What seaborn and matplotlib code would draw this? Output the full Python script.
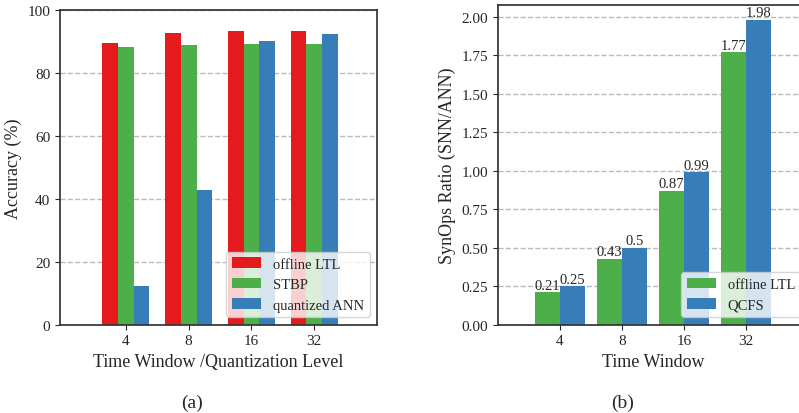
import matplotlib
matplotlib.use("Agg")
import matplotlib.pyplot as plt
import seaborn as sns
import pandas as pd

# ---- data ----
windows = ["4", "8", "16", "32"]
acc_offline_ltl = [89.5, 92.7, 93.4, 93.4]
acc_stbp = [88.2, 88.9, 89.2, 89.2]
acc_quant_ann = [12.3, 42.8, 90.1, 92.4]
acc_series = ["offline LTL", "STBP", "quantized ANN"]

syn_offline_ltl = [0.21, 0.43, 0.87, 1.77]
syn_qcfs = [0.25, 0.5, 0.99, 1.98]
syn_series = ["offline LTL", "QCFS"]

red, green, blue = "#e41a1c", "#4daf4a", "#377eb8"

sns.set_style("ticks")
plt.rcParams["font.family"] = ["Liberation Serif", "DejaVu Serif"]
plt.rcParams["axes.edgecolor"] = ".2"
plt.rcParams["axes.linewidth"] = 1.25

df_a = pd.DataFrame({
    "window": windows * 3,
    "acc": acc_offline_ltl + acc_stbp + acc_quant_ann,
    "method": [m for m in acc_series for _ in windows],
})
df_b = pd.DataFrame({
    "window": windows * 2,
    "ratio": syn_offline_ltl + syn_qcfs,
    "method": [m for m in syn_series for _ in windows],
})

fig = plt.figure(figsize=(7.99, 4.14), dpi=100)
W, H = 799, 414
ax1 = fig.add_axes([60 / W, 1 - 325.7 / H, (377 - 60) / W, (325.7 - 11) / H])
ax2 = fig.add_axes([498 / W, 1 - 325.7 / H, (808 - 498) / W, (325.7 - 5.7) / H])

# ---- panel (a) ----
sns.barplot(data=df_a, x="window", y="acc", hue="method", order=windows,
            hue_order=acc_series, palette=[red, green, blue], width=0.75,
            saturation=1, ax=ax1, zorder=2, linewidth=0, edgecolor="none")
ax1.set_xlim(-1.05, 4.0)
ax1.set_ylim(0, 100)
ax1.set_yticks([0, 20, 40, 60, 80, 100])
ax1.set_xlabel("Time Window /Quantization Level", fontsize=13)
ax1.set_ylabel("Accuracy (%)", fontsize=13)
ax1.tick_params(labelsize=11)
ax1.set_axisbelow(True)
ax1.yaxis.grid(True, linestyle="--", color="#bbbbbb", linewidth=1.0)
ax1.legend(loc="lower right", fontsize=10.5, framealpha=0.8, title=None)

# ---- panel (b) ----
sns.barplot(data=df_b, x="window", y="ratio", hue="method", order=windows,
            hue_order=syn_series, palette=[green, blue], width=0.8,
            saturation=1, ax=ax2, zorder=2, linewidth=0, edgecolor="none")
ax2.set_xlim(-1.0, 4.0)
ax2.set_ylim(0, 2.079)
ticks_b = [0, 0.25, 0.5, 0.75, 1.0, 1.25, 1.5, 1.75, 2.0]
ax2.set_yticks(ticks_b)
ax2.set_yticklabels([f"{v:.2f}" for v in ticks_b])
ax2.set_xlabel("Time Window", fontsize=13)
ax2.set_ylabel("SynOps Ratio (SNN/ANN)", fontsize=13)
ax2.tick_params(labelsize=11)
ax2.set_axisbelow(True)
ax2.yaxis.grid(True, linestyle="--", color="#bbbbbb", linewidth=1.0)
for cont, vals in zip(ax2.containers, [syn_offline_ltl, syn_qcfs]):
    ax2.bar_label(cont, labels=[f"{v:g}" for v in vals], fontsize=10.5, padding=0.5)
ax2.legend(loc="lower right", fontsize=10.5, framealpha=0.8, title=None)

fig.text(192 / W, 1 - 403 / H, "(a)", ha="center", va="center", fontsize=14)
fig.text(623 / W, 1 - 403 / H, "(b)", ha="center", va="center", fontsize=14)

fig.savefig("out.png", dpi=100)
